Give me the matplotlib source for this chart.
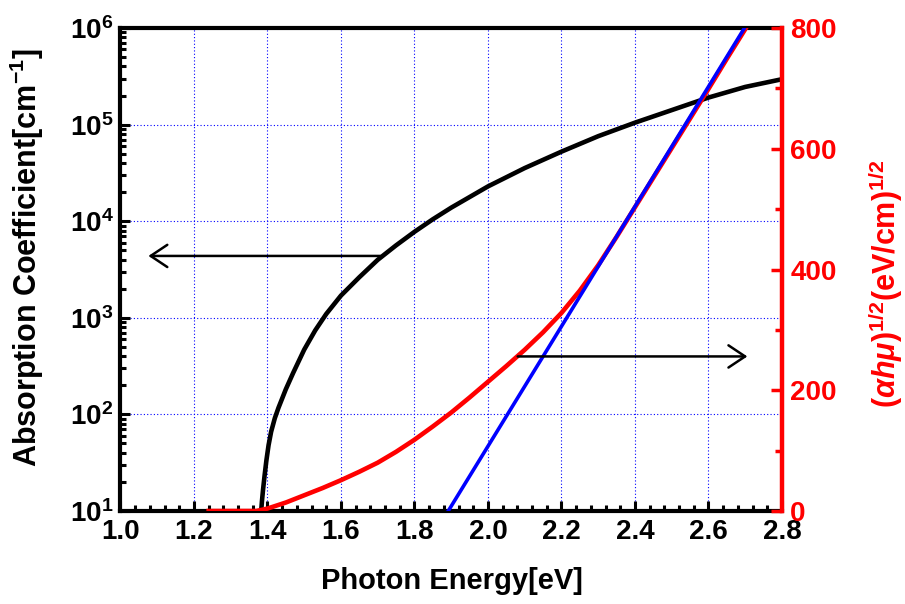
import matplotlib
matplotlib.use('Agg')
import matplotlib.pyplot as plt
from matplotlib.ticker import MultipleLocator, FixedLocator, NullFormatter

plt.rcParams['font.family'] = ['Liberation Sans', 'DejaVu Sans']
plt.rcParams['font.weight'] = 'bold'
plt.rcParams['mathtext.fontset'] = 'custom'
plt.rcParams['mathtext.rm'] = 'Liberation Sans:bold'
plt.rcParams['mathtext.it'] = 'Liberation Sans:italic:bold'
plt.rcParams['mathtext.bf'] = 'Liberation Sans:bold'

# ---------------- data ----------------
energy_abs = [1.383, 1.385, 1.388, 1.392, 1.397, 1.403, 1.41, 1.42, 1.43, 1.45,
              1.47, 1.50, 1.53, 1.56, 1.60, 1.65, 1.70, 1.75, 1.80, 1.85,
              1.90, 1.95, 2.00, 2.10, 2.20, 2.30, 2.40, 2.50, 2.60, 2.70, 2.80]
alpha_abs = [10, 12.6, 16.6, 22.9, 33.1, 47.9, 66.1, 91.2, 117, 182,
             269, 468, 741, 1096, 1698, 2630, 3981, 5623, 7762, 10471,
             13804, 17783, 22909, 35481, 52481, 75858, 104713, 141254, 190546, 245471, 295121]

energy_tauc = [1.24, 1.37, 1.40, 1.45, 1.50, 1.55, 1.60, 1.65, 1.70, 1.75,
               1.80, 1.85, 1.90, 1.95, 2.00, 2.05, 2.10, 2.15, 2.20, 2.25,
               2.30, 2.35, 2.40, 2.45, 2.50, 2.55, 2.60, 2.65, 2.702]
tauc_vals = [0, 0, 4, 14, 26, 38, 51, 65, 80, 98,
             118, 140, 163, 188, 214, 240, 267, 296, 328, 365,
             407, 454, 503, 552, 601, 650, 699, 749, 800]

energy_fit = [1.892, 2.698]
fit_vals = [0, 800]

energy_ticks = [1.0, 1.2, 1.4, 1.6, 1.8, 2.0, 2.2, 2.4, 2.6, 2.8]
energy_labels = ['1.0', '1.2', '1.4', '1.6', '1.8', '2.0', '2.2', '2.4', '2.6', '2.8']
alpha_ticks = [1e1, 1e2, 1e3, 1e4, 1e5, 1e6]
alpha_labels = [r'$10^{1}$', r'$10^{2}$', r'$10^{3}$', r'$10^{4}$', r'$10^{5}$', r'$10^{6}$']
tauc_ticks = [0, 200, 400, 600, 800]
tauc_labels = ['0', '200', '400', '600', '800']

arrow_left = {'tail': (1.707, 4370), 'tip': (1.076, 4370)}
arrow_right = {'tail': (2.081, 256), 'tip': (2.706, 256)}

# ---------------- figure ----------------
fig = plt.figure(figsize=(9.05, 6.04), dpi=100)
ax = fig.add_axes([0.1331, 0.1540, 0.7309, 0.7996])
ax.set_yscale('log')
ax.set_xlim(1.0, 2.8)
ax.set_ylim(1e1, 1e6)

ax.plot(energy_abs, alpha_abs, color='black', lw=3.3, solid_joinstyle='round', zorder=3)

ax.set_xticks(energy_ticks)
ax.set_xticklabels(energy_labels)
ax.xaxis.set_minor_locator(MultipleLocator(0.04))
ax.set_yticks(alpha_ticks)
ax.set_yticklabels(alpha_labels)
minors = [m * 10 ** e for e in range(1, 6) for m in range(2, 10)]
ax.yaxis.set_minor_locator(FixedLocator(minors))
ax.yaxis.set_minor_formatter(NullFormatter())

ax.grid(True, which='major', color='#0000ff', linestyle=(0, (1, 2)), lw=0.8)
ax.tick_params(which='major', direction='in', length=7, width=2.2, labelsize=20, pad=6,
               top=False, right=False)
ax.tick_params(which='minor', direction='in', length=4, width=2.2, top=False, right=False)
ax.tick_params(axis='y', pad=5)
for s in ['left', 'bottom', 'top']:
    ax.spines[s].set_linewidth(3)
ax.spines['right'].set_visible(False)

ax.set_xlabel('Photon Energy[eV]', fontsize=21, fontweight='bold')
ax.xaxis.set_label_coords(0.5008, -0.115)
ax.set_ylabel(r'Absorption Coefficient[cm$^{-1}$]', fontsize=22, fontweight='bold')
ax.yaxis.set_label_coords(-0.112, 0.525)

ax.annotate('', xy=arrow_left['tip'], xytext=arrow_left['tail'],
            arrowprops=dict(arrowstyle='->,head_length=0.6,head_width=0.4', lw=1.8,
                            color='black', shrinkA=0, shrinkB=0, mutation_scale=20),
            zorder=4)

ax2 = ax.twinx()
ax2.set_ylim(0, 800)
ax2.plot(energy_tauc, tauc_vals, color='#ff0000', lw=3.3, solid_joinstyle='round', zorder=3)
ax2.plot(energy_fit, fit_vals, color='#0000ff', lw=2.6, zorder=4)
ax2.set_yticks(tauc_ticks)
ax2.set_yticklabels(tauc_labels)
ax2.yaxis.set_minor_locator(MultipleLocator(100))
ax2.tick_params(which='major', direction='in', length=8, width=2.5, labelsize=20, pad=6,
                colors='#ff0000')
ax2.tick_params(which='minor', direction='in', length=5, width=2.5, colors='#ff0000')
for lab in ax2.get_yticklabels():
    lab.set_fontweight('bold')
ax2.spines['right'].set_color('#ff0000')
ax2.spines['right'].set_linewidth(3.2)
for s in ['left', 'bottom', 'top']:
    ax2.spines[s].set_visible(False)
ax2.set_ylabel(r'$(\alpha h\mu)^{1/2}$(eV/cm)$^{1/2}$', fontsize=22, fontweight='bold',
               color='#ff0000')
ax2.yaxis.set_label_coords(1.127, 0.47)

ax2.annotate('', xy=arrow_right['tip'], xytext=arrow_right['tail'],
             arrowprops=dict(arrowstyle='->,head_length=0.6,head_width=0.4', lw=1.8,
                             color='black', shrinkA=0, shrinkB=0, mutation_scale=20),
             zorder=5)

for lab in ax.get_xticklabels() + ax.get_yticklabels():
    lab.set_fontweight('bold')

fig.savefig('out.png', dpi=100)
